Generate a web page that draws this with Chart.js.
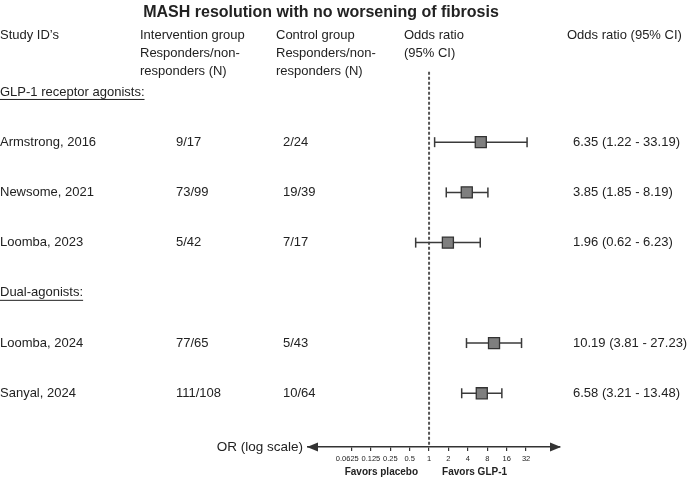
<!DOCTYPE html>
<html>
<head>
<meta charset="utf-8">
<script src="https://cdn.jsdelivr.net/npm/chart.js@4.4.1/dist/chart.umd.min.js"></script>
<style>
  html, body { margin: 0; padding: 0; background: #fff; }
  #wrap { width: 690px; height: 479px; }
</style>
</head>
<body>
<div id="wrap"><canvas id="forest" width="690" height="479"></canvas></div>
<script>
// --- DATA ---
const studies = ['Armstrong, 2016', 'Newsome, 2021', 'Loomba, 2023', 'Loomba, 2024', 'Sanyal, 2024'];
const studyRows = [1, 2, 3, 5, 6];
const groupNames = ['GLP-1 receptor agonists:', 'Dual-agonists:'];
const groupRows = [0, 4];
const interventionN = ['9/17', '73/99', '5/42', '77/65', '111/108'];
const controlN = ['2/24', '19/39', '7/17', '5/43', '10/64'];
const oddsRatio = [6.35, 3.85, 1.96, 10.19, 6.58];
const ciLower = [1.22, 1.85, 0.62, 3.81, 3.21];
const ciUpper = [33.19, 8.19, 6.23, 27.23, 13.48];
const tickValues = [0.0625, 0.125, 0.25, 0.5, 1, 2, 4, 8, 16, 32];

const FONT = '"Liberation Sans", Arial, Helvetica, sans-serif';
const TEXT = '#222';

// --- DATASETS ---
const datasets = [];

// square markers (first = drawn on top)
datasets.push({
    data: oddsRatio.map((v, i) => ({ x: v, y: studyRows[i] })),
    pointStyle: 'rect',
    pointRadius: 7.8,
    backgroundColor: '#7f7f7f',
    borderColor: '#333',
    borderWidth: 1.3,
    showLine: false
});

// confidence intervals with end caps
studies.forEach((s, i) => {
    datasets.push({
        data: [{ x: ciLower[i], y: studyRows[i] }, { x: ciUpper[i], y: studyRows[i] }],
        showLine: true,
        borderColor: '#3a3a3a',
        borderWidth: 1.5,
        pointStyle: 'line',
        rotation: 90,
        pointRadius: 5,
        pointBorderColor: '#3a3a3a',
        pointBorderWidth: 1.5
    });
});

// line of no effect
datasets.push({
    data: [{ x: 1, y: -0.4 }, { x: 1, y: 7.07 }],
    showLine: true,
    borderColor: '#555',
    borderWidth: 2,
    borderDash: [3, 2],
    pointRadius: 0
});

// --- TEXT / DECOR PLUGIN ---
const forestText = {
    id: 'forestText',
    afterDraw(chart) {
        const ctx = chart.ctx;
        const xs = chart.scales.x;
        const ys = chart.scales.y;
        const area = chart.chartArea;
        ctx.save();
        ctx.fillStyle = TEXT;
        ctx.textBaseline = 'middle';

        // title
        ctx.font = 'bold 16px ' + FONT;
        ctx.textAlign = 'center';
        ctx.fillText('MASH resolution with no worsening of fibrosis', 321, 13);

        // column headers
        ctx.font = '13px ' + FONT;
        ctx.textAlign = 'left';
        const headers = [
            [0, ['Study ID\u2019s']],
            [140, ['Intervention group', 'Responders/non-', 'responders (N)']],
            [276, ['Control group', 'Responders/non-', 'responders (N)']],
            [404, ['Odds ratio', '(95% CI)']],
            [567, ['Odds ratio (95% CI)']]
        ];
        headers.forEach(([x, lines]) => {
            lines.forEach((t, k) => ctx.fillText(t, x, 35 + k * 18));
        });

        // group headers, underlined
        groupNames.forEach((g, i) => {
            const y = ys.getPixelForValue(groupRows[i]);
            ctx.fillText(g, 0, y);
            const w = ctx.measureText(g).width;
            ctx.fillRect(0, y + 7, w, 1);
        });

        // study rows
        studies.forEach((s, i) => {
            const y = ys.getPixelForValue(studyRows[i]);
            ctx.fillText(s, 0, y);
            ctx.fillText(interventionN[i], 176, y);
            ctx.fillText(controlN[i], 283, y);
            ctx.fillText(oddsRatio[i].toFixed(2) + ' (' + ciLower[i].toFixed(2) + ' - ' + ciUpper[i].toFixed(2) + ')', 573, y);
        });

        // axis arrows
        const ay = area.bottom;
        ctx.fillStyle = '#333';
        ctx.beginPath();
        ctx.moveTo(area.left - 1, ay);
        ctx.lineTo(area.left + 10, ay - 4.5);
        ctx.lineTo(area.left + 10, ay + 4.5);
        ctx.closePath();
        ctx.fill();
        ctx.beginPath();
        ctx.moveTo(area.right + 1, ay);
        ctx.lineTo(area.right - 10, ay - 4.5);
        ctx.lineTo(area.right - 10, ay + 4.5);
        ctx.closePath();
        ctx.fill();

        // axis title
        ctx.fillStyle = TEXT;
        ctx.font = '13.5px ' + FONT;
        ctx.textAlign = 'right';
        ctx.fillText('OR (log scale)', area.left - 5, ay);

        // favours labels
        const x1 = xs.getPixelForValue(1);
        ctx.font = 'bold 10px ' + FONT;
        ctx.textAlign = 'right';
        ctx.fillText('Favors placebo', x1 - 11, ay + 25);
        ctx.textAlign = 'left';
        ctx.fillText('Favors GLP-1', x1 + 13, ay + 25);
        ctx.restore();
    }
};

new Chart(document.getElementById('forest'), {
    type: 'scatter',
    data: { datasets: datasets },
    options: {
        responsive: false,
        animation: false,
        events: [],
        layout: { padding: { left: 308, right: 130, top: 0, bottom: 0 } },
        plugins: { legend: { display: false }, tooltip: { enabled: false } },
        scales: {
            x: {
                type: 'logarithmic',
                min: Math.pow(2, -6.24),
                max: Math.pow(2, 6.75),
                bounds: 'data',
                afterBuildTicks: (s) => { s.ticks = tickValues.map(v => ({ value: v })); },
                afterFit: (s) => { s.height = 32; },
                border: { display: true, color: '#333', width: 1.5 },
                grid: { drawOnChartArea: false, drawTicks: true, tickLength: 4, color: '#333', lineWidth: 1.2 },
                ticks: {
                    autoSkip: false, maxRotation: 0, padding: 3, color: TEXT,
                    font: { size: 7.5, family: FONT },
                    // first label sits a little left of its tick, as in the source figure
                    callback: (v) => (v === tickValues[0] ? String(v) + '    ' : String(v))
                }
            },
            y: { type: 'linear', min: -1.65, max: 7.07, reverse: true, display: false }
        }
    },
    plugins: [forestText]
});
</script>
</body>
</html>
